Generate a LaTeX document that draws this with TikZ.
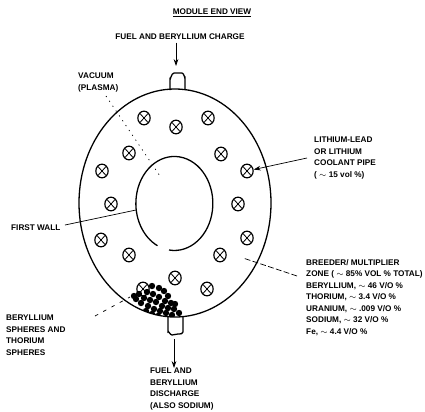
\documentclass[tikz,border=0pt]{standalone}
\usepackage{fontspec}
\setmainfont{Liberation Sans}
\usepackage{tikz}
\usetikzlibrary{shapes.geometric, arrows.meta, positioning}

\begin{document}
\begin{tikzpicture}[
  x=0.03cm, y=-0.03cm,
  caption/.style={inner sep=0pt, align=left, font=\fontsize{7}{9.8}\selectfont\bfseries},
  wall/.style={draw, line width=1.1pt},
  leader/.style={draw, line width=0.6pt},
  pipe/.style={draw, line width=1pt, fill=white, ellipse, inner sep=0pt, minimum width=0.37cm, minimum height=0.41cm,
    path picture={\draw[line width=0.7pt] (path picture bounding box.north west) -- (path picture bounding box.south east)
      (path picture bounding box.north east) -- (path picture bounding box.south west);}}
]
  \useasboundingbox (0,0) rectangle (425,411);

  \draw[wall, fill=white] (170,90) -- (170,79) to[out=-90,in=180] (174,73) -- (182,73) to[out=0,in=-90] (185,78) -- (185,90);
  \draw[wall, fill=white] (168,316) -- (168,332) to[out=80,in=180] (172,335) to[out=0,in=180] (178,334) to[out=0,in=-80] (183,332) -- (183,316);
  \draw[wall] (175,203) ellipse [x radius=96, y radius=114];
  \draw[wall] (169,250) arc [start angle=98, end angle=-244, x radius=38.5, y radius=47];

  \foreach \n/\x/\y in {a/144/118, b/176/127, c/208/118, d/129/153, e/221/154, f/102/171, g/247/171, h/111/204,
    i/238/204, j/101/240, k/247/238, l/129/255, m/220/255, n/175/278, o/207/289, p/143/289}
    \node[pipe] (pipe\n) at (\x,\y) {};

  \begin{scope}
    \clip (175,203) ellipse [x radius=96, y radius=114];
    \foreach \x/\y in {152/286, 159/288, 164/291, 168/296, 147/292, 153/294, 159/297, 165/301, 171/303,
      139/294, 144/298, 150/300, 156/302, 162/306, 168/308, 174/309, 136/299, 141/303, 148/306,
      154/309, 160/311, 166/313, 172/315, 179/313, 134/296, 146/311, 152/314, 158/316, 175/304}
      \fill (\x,\y) circle [radius=3.2];
  \end{scope}

  \node[caption] (title) at (212,13) {\underline{MODULE END VIEW}};
  \node[caption] (charge) at (180,36.5) {FUEL AND BERYLLIUM CHARGE};
  \node[caption, anchor=north west] (vacuum) at (78,73) {VACUUM\\(PLASMA)};
  \node[caption, anchor=north west] (coolant) at (314,137) {LITHIUM-LEAD\\OR LITHIUM\\COOLANT PIPE\\( $\sim$ 15 vol \%)};
  \node[caption, anchor=north west] (firstwall) at (11,225) {FIRST WALL};
  \node[caption, anchor=north west] (breeder) at (306,259) {BREEDER/ MULTIPLIER\\ZONE ( $\sim$ 85\% VOL \% TOTAL)\\BERYLLIUM, $\sim$ 46 V/O \%\\THORIUM, $\sim$ 3.4 V/O \%\\URANIUM, $\sim$ .009 V/O \%\\SODIUM, $\sim$ 32 V/O \%\\Fe, $\sim$ 4.4 V/O \%};
  \node[caption, anchor=north west] (spheres) at (6,315) {BERYLLIUM\\SPHERES AND\\THORIUM\\SPHERES};
  \node[caption, anchor=north west] (discharge) at (150,368) {FUEL AND\\BERYLLIUM\\DISCHARGE\\(ALSO SODIUM)};

  \coordinate (chargeend) at (176,66);
  \coordinate (dischargestart) at (174,339);
  \coordinate (vacuumend) at (160,176);
  \coordinate (vacuumstart) at (106,96);
  \coordinate (wallstart) at (65,225);
  \coordinate (wallend) at (136,210);
  \coordinate (coolantstart) at (307,158);
  \coordinate (breederend) at (243,258);
  \coordinate (breederstart) at (297,276);
  \coordinate (spheresend) at (130,297);
  \coordinate (spheresstart) at (95,316);

  \draw[leader, -{Stealth[length=6pt,width=4pt]}] (charge.south -| chargeend) ++(0,3) -- (chargeend);
  \draw[leader, -{Stealth[length=6pt,width=4pt]}] (dischargestart) -- (discharge.north -| dischargestart);
  \draw[leader, dash pattern=on 1pt off 4pt] (vacuumstart) -- (vacuumend);
  \draw[leader, -{Stealth[length=6pt,width=4pt]}] (coolantstart) -- (pipeg);
  \draw[leader] (wallstart) -- (wallend);
  \draw[leader, dash pattern=on 5pt off 2pt] (breederstart) -- (breederend);
  \draw[leader, dash pattern=on 3pt off 5pt] (spheresstart) -- (spheresend);
\end{tikzpicture}
\end{document}
